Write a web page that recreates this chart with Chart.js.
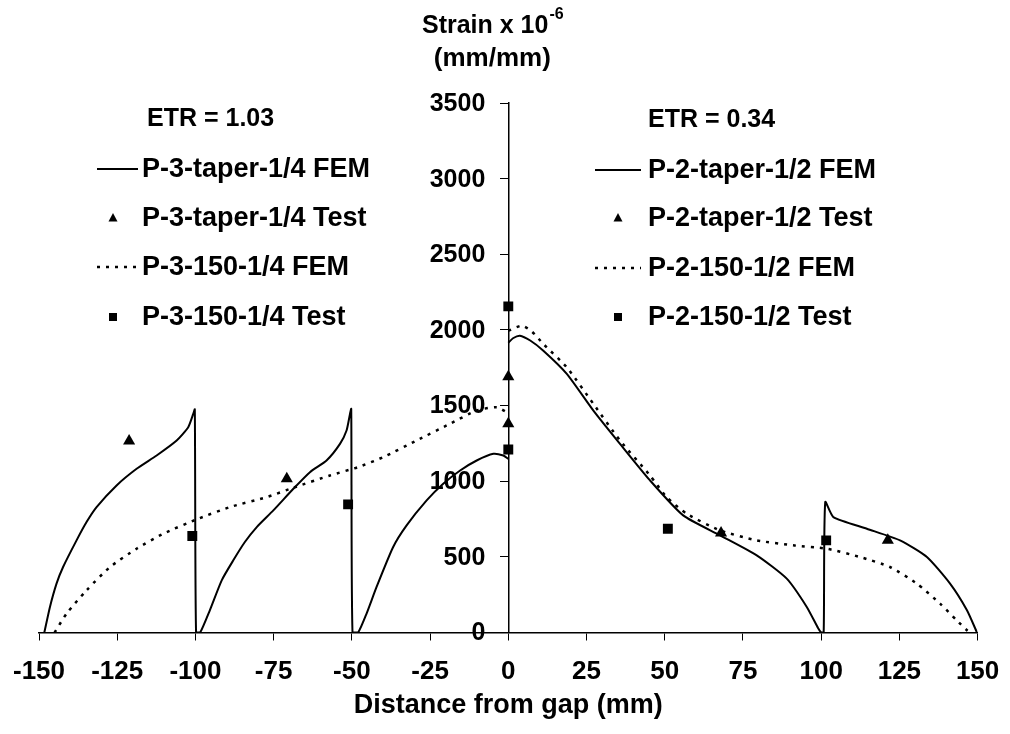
<html>
 <head>
   <meta charset="utf-8" />
   <title>Strain vs distance from gap</title>
   <style>
     body { margin: 0; background: #fff; }
   </style>
 </head>

 <body>
<canvas id="strain_chart" width="1010" height="734"></canvas>

<script src="https://cdn.jsdelivr.net/npm/chart.js"></script>
<script>

// ---- data (distance in mm, strain in 10^-6 mm/mm) ----

// P-3 taper 1/4 FEM (solid, left half)
const p3TaperFemX = [-148.3, -146.5, -144.4, -142.3, -138, -134.8, -131.6, -125.2, -118.8, -112.4, -106, -102.3, -100.7, -100.2, -99.8, -98.5,
                     -95.4, -91.6, -87.9, -84.2, -80.4, -75.1, -68.7, -63.4, -58.1, -53.8, -51.7, -50.6, -50.2, -49.8, -48,
                     -45.3, -42.1, -36.8, -32.5, -26.1, -20.8, -15.4, -10.1, -4.8, -1.6, 0];
const p3TaperFemY = [0, 169, 323, 433, 609, 730, 829, 972, 1082, 1170, 1269, 1357, 1445, 1475, 0, 0,
                     147, 345, 477, 598, 697, 807, 950, 1060, 1137, 1247, 1335, 1445, 1478, 0, 0,
                     125, 301, 565, 708, 873, 983, 1071, 1137, 1181, 1170, 1148];

// P-3 taper 1/4 test (triangles)
const p3TaperTestX = [-121.2, -70.8, 0];
const p3TaperTestY = [1265, 1016, 1380];

// P-3-150 1/4 FEM (dotted, left half)
const p3StdFemX = [-145, -141.2, -134.8, -127.3, -118.8, -110.3, -99.1, -89, -77.2, -68.7, -57, -48, -40, -29.3, -18.6, -10.1, -3.7, 0];
const p3StdFemY = [0, 125, 279, 433, 554, 653, 752, 829, 895, 957, 1038, 1093, 1159, 1269, 1380, 1467, 1489, 1450];

// P-3-150 1/4 test (squares)
const p3StdTestX = [-101, -51.2, 0];
const p3StdTestY = [638, 847, 1210];

// P-2 taper 1/2 FEM (solid, right half)
const p2TaperFemX = [0, 1.5, 3.7, 7, 11.2, 18.7, 27.2, 35.7, 45.3, 55.9, 67.7, 79.4, 89, 95.4, 99, 100, 100.8,
                     101.3, 103.9, 114.6, 125.2, 133.8, 141.2, 146.6, 149.8];
const p2TaperFemY = [1915, 1945, 1962, 1930, 1863, 1710, 1467, 1247, 1005, 774, 642, 510, 356, 169, 30, 0, 0,
                     862, 763, 686, 609, 499, 323, 147, 0];

// P-2 taper 1/2 test (triangles)
const p2TaperTestX = [0, 68, 121.3];
const p2TaperTestY = [1690, 657, 609];

// P-2-150 1/2 FEM (dotted, right half)
const p2StdFemX = [0, 4.3, 7.5, 11.2, 18.7, 27.2, 35.7, 45.3, 50.6, 57, 67.7, 79.4, 91.1, 101.8, 112.4, 122, 130.6, 138, 143.3, 146.6, 147.5];
const p2StdFemY = [1995, 2028, 1990, 1907, 1753, 1511, 1269, 1038, 895, 785, 675, 609, 576, 554, 499, 433, 323, 191, 81, 15, 0];

// P-2-150 1/2 test (squares)
const p2StdTestX = [0, 51, 101.6];
const p2StdTestY = [2156, 686, 609];

const xTicks = { min: -150, max: 150, step: 25 };
const yTicks = { min: 0, max: 3500, step: 500 };

const leftLegendTitle = 'ETR = 1.03';
const rightLegendTitle = 'ETR = 0.34';

// ---------------------------------------------------------------------

const FONT = '"Liberation Sans", Arial, Helvetica, sans-serif';

function pts(xs, ys) {
  return xs.map((x, i) => ({ x: x, y: ys[i] }));
}

function femSet(label, xs, ys, dotted) {
  return {
    label: label,
    data: pts(xs, ys),
    showLine: true,
    borderColor: '#000',
    borderWidth: dotted ? 2.5 : 2,
    borderDash: dotted ? [3, 6] : [],
    pointRadius: 0,
    tension: 0.2,
    fill: false
  };
}

function testSet(label, xs, ys, style) {
  return {
    label: label,
    data: pts(xs, ys),
    showLine: false,
    pointStyle: style,
    pointRadius: 7,
    backgroundColor: '#000',
    borderColor: '#000',
    borderWidth: 0
  };
}

var datasets = [
  femSet('P-3-taper-1/4 FEM', p3TaperFemX, p3TaperFemY, false),
  testSet('P-3-taper-1/4 Test', p3TaperTestX, p3TaperTestY, 'triangle'),
  femSet('P-3-150-1/4 FEM', p3StdFemX, p3StdFemY, true),
  testSet('P-3-150-1/4 Test', p3StdTestX, p3StdTestY, 'rect'),
  femSet('P-2-taper-1/2 FEM', p2TaperFemX, p2TaperFemY, false),
  testSet('P-2-taper-1/2 Test', p2TaperTestX, p2TaperTestY, 'triangle'),
  femSet('P-2-150-1/2 FEM', p2StdFemX, p2StdFemY, true),
  testSet('P-2-150-1/2 Test', p2StdTestX, p2StdTestY, 'rect')
];

// two legend blocks, drawn by hand because Chart.js can't split them
var legendBlocks = [
  { title: leftLegendTitle, sets: [0, 1, 2, 3], lineX0: 97, lineX1: 138, markX: 113, textX: 142, titleX: 147, titleY: 119, rowY: [169, 218, 267, 317] },
  { title: rightLegendTitle, sets: [4, 5, 6, 7], lineX0: 595, lineX1: 641, markX: 618, textX: 648, titleX: 648, titleY: 120, rowY: [170, 218, 268, 317] }
];

const textPlugin = {
  id: 'textPlugin',
  afterDraw(chart) {
    const ctx = chart.ctx;
    const xs = chart.scales.x, ys = chart.scales.y;
    const axisX = xs.getPixelForValue(0);
    ctx.save();
    ctx.fillStyle = '#000';
    ctx.strokeStyle = '#000';
    ctx.textBaseline = 'middle';

    // y tick labels, to the left of the centre axis
    ctx.textAlign = 'right';
    ctx.font = 'bold 25px ' + FONT;
    ys.ticks.forEach(function (t) {
      ctx.fillText(String(t.value), axisX - 23, ys.getPixelForValue(t.value) + 1);
    });

    // y axis title on top of the centre axis
    const cx = axisX - 16;
    const w1 = ctx.measureText('Strain x 10').width;
    ctx.font = 'bold 16px ' + FONT;
    const w2 = ctx.measureText('-6').width;
    const x0 = cx - (w1 + w2) / 2;
    ctx.textAlign = 'left';
    ctx.font = 'bold 25px ' + FONT;
    ctx.fillText('Strain x 10', x0, 26);
    ctx.font = 'bold 16px ' + FONT;
    ctx.fillText('-6', x0 + w1 + 1, 15);
    ctx.textAlign = 'center';
    ctx.font = 'bold 26px ' + FONT;
    ctx.fillText('(mm/mm)', cx, 59);

    // legends
    legendBlocks.forEach(function (b) {
      ctx.textAlign = 'left';
      ctx.font = 'bold 25px ' + FONT;
      ctx.fillText(b.title, b.titleX, b.titleY);
      ctx.font = 'bold 27px ' + FONT;
      b.sets.forEach(function (di, k) {
        const ds = chart.data.datasets[di];
        const y = b.rowY[k];
        if (ds.showLine) {
          ctx.beginPath();
          ctx.lineWidth = ds.borderWidth;
          ctx.setLineDash(ds.borderDash);
          ctx.moveTo(b.lineX0, y);
          ctx.lineTo(b.lineX1, y);
          ctx.stroke();
          ctx.setLineDash([]);
        } else if (ds.pointStyle == 'triangle') {
          ctx.beginPath();
          ctx.moveTo(b.markX, y - 5);
          ctx.lineTo(b.markX + 4.5, y + 3.5);
          ctx.lineTo(b.markX - 4.5, y + 3.5);
          ctx.closePath();
          ctx.fill();
        } else {
          ctx.fillRect(b.markX - 4, y - 4, 8, 8);
        }
        ctx.fillText(ds.label, b.textX, y + 1);
      });
    });
    ctx.restore();
  }
};

var ctx = document.getElementById('strain_chart');

var strain_chart = new Chart(ctx, {
  type: 'scatter',
  data: { datasets: datasets },
  options: {
    responsive: false,
    animation: false,
    layout: { padding: { left: 39, right: 32.4, top: 103, bottom: 12.5 } },
    plugins: {
      legend: { display: false },
      tooltip: { enabled: false }
    },
    scales: {
      x: {
        type: 'linear',
        min: xTicks.min,
        max: xTicks.max,
        ticks: {
          stepSize: xTicks.step,
          autoSkip: false,
          maxRotation: 0,
          color: '#000',
          padding: 16,
          font: { family: FONT, size: 26, weight: 'bold' }
        },
        grid: { drawOnChartArea: false, drawTicks: true, tickLength: 8, color: '#000', lineWidth: 1 },
        border: { color: '#000', width: 1.5 },
        title: {
          display: true,
          text: 'Distance from gap (mm)',
          color: '#000',
          padding: { top: 0, bottom: 0 },
          font: { family: FONT, size: 27, weight: 'bold' }
        },
        afterFit: function (scale) {
          scale.height = 89;
          scale.paddingLeft = 0;
          scale.paddingRight = 0;
        }
      },
      y: {
        type: 'linear',
        position: { x: 0 },
        min: yTicks.min,
        max: yTicks.max,
        ticks: { stepSize: yTicks.step, display: false },
        grid: { drawOnChartArea: false, drawTicks: true, tickLength: 8, color: '#000', lineWidth: 1 },
        border: { color: '#000', width: 1.5 },
        afterFit: function (scale) { scale.width = 0; }
      }
    }
  },
  plugins: [textPlugin]
});

</script>
</body>
</html>
